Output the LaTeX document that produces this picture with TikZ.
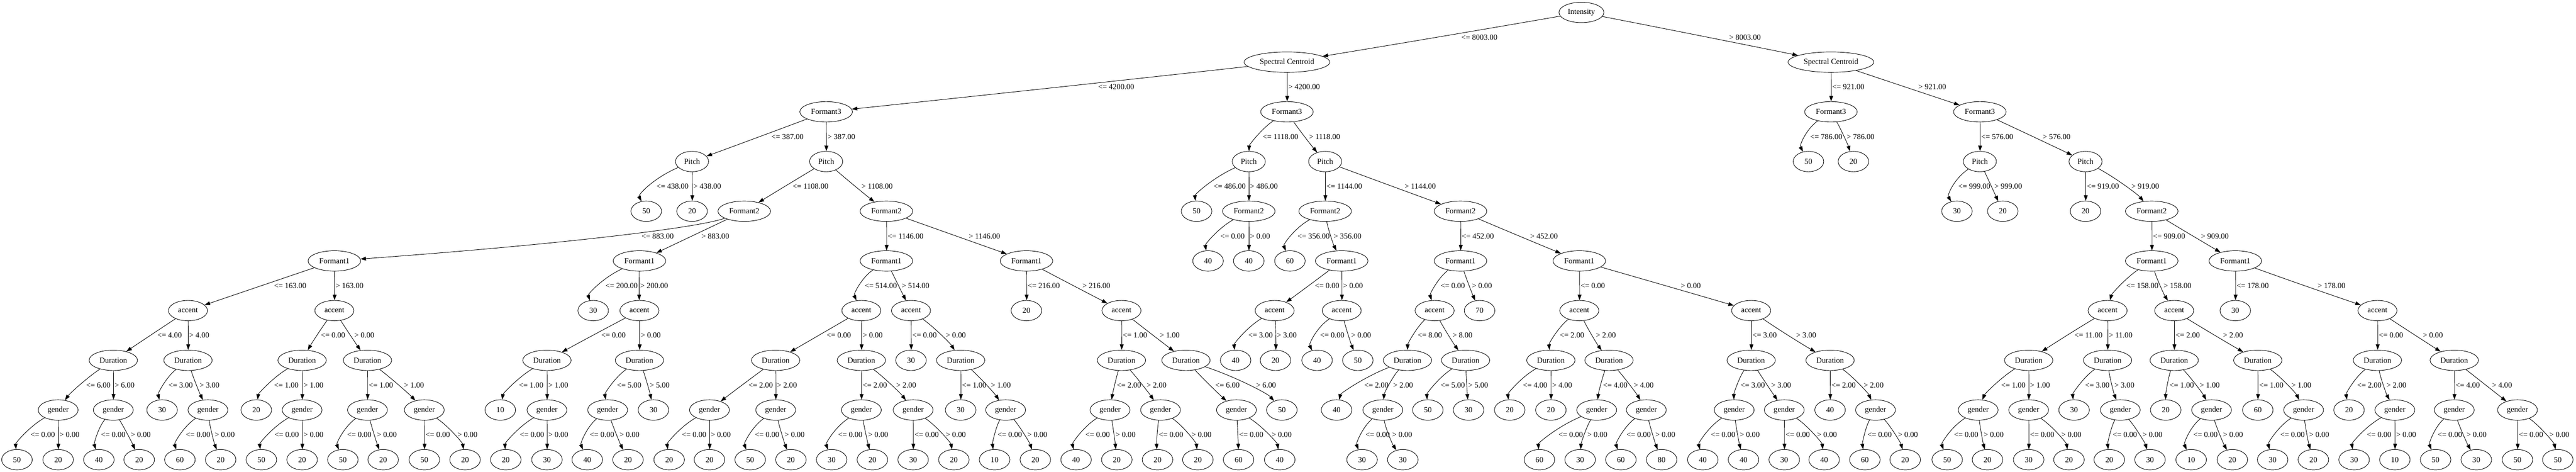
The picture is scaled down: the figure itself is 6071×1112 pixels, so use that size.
\documentclass[tikz,border=0pt]{standalone}
\usepackage{fontspec}
\setmainfont{Liberation Serif}
\usetikzlibrary{shapes.geometric,arrows.meta}
\tikzset{
  nd/.style={draw, ellipse, line width=1.1pt, inner sep=0pt, minimum height=48pt},
  lf/.style={nd, minimum width=72pt},
  rootn/.style={nd, minimum width=106pt},
  scn/.style={nd, minimum width=202pt},
  fm/.style={nd, minimum width=124pt},
  pit/.style={nd, minimum width=78pt},
  acc/.style={nd, minimum width=92pt},
  dur/.style={nd, minimum width=114pt},
  gen/.style={nd, minimum width=94pt},
  conn/.style={draw, line width=1.1pt, -{Triangle[length=13pt,width=9pt]}},
  elab/.style={anchor=west, inner sep=0pt},
}
% node: style, level, x, text
\newcommand\Nd[4]{\node[#1] (L#2x#3) at (#3,{29.3+117.1*#2}) {#4};}
% edge: parent level, parent x, child x, label, label x
\newcommand\Edge[5]{%
  \pgfmathsetmacro\eya{29.3+117.1*#1}%
  \pgfmathsetmacro\eyb{29.3+117.1*(#1+1)}%
  \pgfmathsetmacro\eym{(\eya+\eyb)/2}%
  \pgfmathsetmacro\eoff{abs(#3-#2)/117.1*9.5}%
  \pgfmathsetmacro\evx{#5-2.5-\eoff}%
  \pgfmathsetmacro\eqx{2*\evx-#2/2-#3/2}%
  \pgfmathsetmacro\ecax{#2/3+\eqx/1.5}%
  \pgfmathsetmacro\ecay{\eya/3+\eym/1.5}%
  \pgfmathsetmacro\ecbx{#3/3+\eqx/1.5}%
  \pgfmathsetmacro\ecby{\eyb/3+\eym/1.5}%
  \pgfmathtruncatemacro\elc{#1+1}%
  \draw[conn] (L#1x#2) .. controls (\ecax,\ecay) and (\ecbx,\ecby) .. (L\elc x#3);%
  \node[elab] at (#5,\eym) {#4};%
}
\begin{document}
\begin{tikzpicture}[x=1pt,y=-1pt,font=\fontsize{18.3}{22}\selectfont]
\useasboundingbox (0,0) rectangle (6071,1112);
\fill[white] (0,0) rectangle (6071,1112);
% level 0-2
\Nd{rootn}{0}{3727}{Intensity}
\Nd{scn}{1}{3033}{Spectral Centroid}
\Nd{scn}{1}{4315}{Spectral Centroid}
\Nd{fm}{2}{1947}{Formant3}
\Nd{fm}{2}{3033}{Formant3}
\Nd{fm}{2}{4315}{Formant3}
\Nd{fm}{2}{4666}{Formant3}
% level 3
\Nd{pit}{3}{1631}{Pitch}
\Nd{pit}{3}{1947}{Pitch}
\Nd{pit}{3}{2943}{Pitch}
\Nd{pit}{3}{3123}{Pitch}
\Nd{lf}{3}{4262}{50}
\Nd{lf}{3}{4368}{20}
\Nd{pit}{3}{4666}{Pitch}
\Nd{pit}{3}{4915}{Pitch}
% level 4
\Nd{lf}{4}{1523}{50}
\Nd{lf}{4}{1631}{20}
\Nd{fm}{4}{1754}{Formant2}
\Nd{fm}{4}{2089}{Formant2}
\Nd{lf}{4}{2820}{50}
\Nd{fm}{4}{2943}{Formant2}
\Nd{fm}{4}{3123}{Formant2}
\Nd{fm}{4}{3442}{Formant2}
\Nd{lf}{4}{4612}{30}
\Nd{lf}{4}{4720}{20}
\Nd{lf}{4}{4915}{20}
\Nd{fm}{4}{5071}{Formant2}
% level 5
\Nd{fm}{5}{788}{Formant1}
\Nd{fm}{5}{1507}{Formant1}
\Nd{fm}{5}{2089}{Formant1}
\Nd{fm}{5}{2419}{Formant1}
\Nd{lf}{5}{2847}{40}
\Nd{lf}{5}{2943}{40}
\Nd{lf}{5}{3040}{60}
\Nd{fm}{5}{3162}{Formant1}
\Nd{fm}{5}{3442}{Formant1}
\Nd{fm}{5}{3722}{Formant1}
\Nd{fm}{5}{5071}{Formant1}
\Nd{fm}{5}{5268}{Formant1}
% level 6
\Nd{acc}{6}{443}{accent}
\Nd{acc}{6}{788}{accent}
\Nd{lf}{6}{1398}{30}
\Nd{acc}{6}{1507}{accent}
\Nd{acc}{6}{2030}{accent}
\Nd{acc}{6}{2147}{accent}
\Nd{lf}{6}{2419}{20}
\Nd{acc}{6}{2643}{accent}
\Nd{acc}{6}{3004}{accent}
\Nd{acc}{6}{3162}{accent}
\Nd{acc}{6}{3381}{accent}
\Nd{lf}{6}{3487}{70}
\Nd{acc}{6}{3722}{accent}
\Nd{acc}{6}{4127}{accent}
\Nd{acc}{6}{4967}{accent}
\Nd{acc}{6}{5124}{accent}
\Nd{lf}{6}{5268}{30}
\Nd{acc}{6}{5603}{accent}
% level 7
\Nd{dur}{7}{267}{Duration}
\Nd{dur}{7}{443}{Duration}
\Nd{dur}{7}{712}{Duration}
\Nd{dur}{7}{866}{Duration}
\Nd{dur}{7}{1289}{Duration}
\Nd{dur}{7}{1507}{Duration}
\Nd{dur}{7}{1828}{Duration}
\Nd{dur}{7}{2030}{Duration}
\Nd{lf}{7}{2147}{30}
\Nd{dur}{7}{2264}{Duration}
\Nd{dur}{7}{2643}{Duration}
\Nd{dur}{7}{2795}{Duration}
\Nd{lf}{7}{2912}{40}
\Nd{lf}{7}{3006}{20}
\Nd{lf}{7}{3104}{40}
\Nd{lf}{7}{3200}{50}
\Nd{dur}{7}{3317}{Duration}
\Nd{dur}{7}{3454}{Duration}
\Nd{dur}{7}{3655}{Duration}
\Nd{dur}{7}{3792}{Duration}
\Nd{dur}{7}{4127}{Duration}
\Nd{dur}{7}{4313}{Duration}
\Nd{dur}{7}{4781}{Duration}
\Nd{dur}{7}{4967}{Duration}
\Nd{dur}{7}{5124}{Duration}
\Nd{dur}{7}{5321}{Duration}
\Nd{dur}{7}{5603}{Duration}
\Nd{dur}{7}{5784}{Duration}
% level 8
\Nd{gen}{8}{137}{gender}
\Nd{gen}{8}{267}{gender}
\Nd{lf}{8}{382}{30}
\Nd{gen}{8}{490}{gender}
\Nd{lf}{8}{604}{20}
\Nd{gen}{8}{712}{gender}
\Nd{gen}{8}{866}{gender}
\Nd{gen}{8}{1000}{gender}
\Nd{lf}{8}{1179}{10}
\Nd{gen}{8}{1289}{gender}
\Nd{gen}{8}{1432}{gender}
\Nd{lf}{8}{1540}{30}
\Nd{gen}{8}{1672}{gender}
\Nd{gen}{8}{1828}{gender}
\Nd{gen}{8}{2030}{gender}
\Nd{gen}{8}{2152}{gender}
\Nd{lf}{8}{2264}{30}
\Nd{gen}{8}{2370}{gender}
\Nd{gen}{8}{2616}{gender}
\Nd{gen}{8}{2735}{gender}
\Nd{gen}{8}{2914}{gender}
\Nd{lf}{8}{3021}{50}
\Nd{lf}{8}{3150}{40}
\Nd{gen}{8}{3259}{gender}
\Nd{lf}{8}{3365}{50}
\Nd{lf}{8}{3461}{30}
\Nd{lf}{8}{3558}{20}
\Nd{lf}{8}{3655}{20}
\Nd{gen}{8}{3763}{gender}
\Nd{gen}{8}{3880}{gender}
\Nd{gen}{8}{4087}{gender}
\Nd{gen}{8}{4205}{gender}
\Nd{lf}{8}{4313}{40}
\Nd{gen}{8}{4420}{gender}
\Nd{gen}{8}{4662}{gender}
\Nd{gen}{8}{4781}{gender}
\Nd{lf}{8}{4888}{30}
\Nd{gen}{8}{4997}{gender}
\Nd{lf}{8}{5104}{20}
\Nd{gen}{8}{5212}{gender}
\Nd{lf}{8}{5321}{60}
\Nd{gen}{8}{5429}{gender}
\Nd{lf}{8}{5536}{20}
\Nd{gen}{8}{5644}{gender}
\Nd{gen}{8}{5784}{gender}
\Nd{gen}{8}{5933}{gender}
% level 9
\Nd{lf}{9}{40}{50}
\Nd{lf}{9}{137}{20}
\Nd{lf}{9}{233}{40}
\Nd{lf}{9}{328}{20}
\Nd{lf}{9}{424}{60}
\Nd{lf}{9}{520}{20}
\Nd{lf}{9}{616}{50}
\Nd{lf}{9}{712}{20}
\Nd{lf}{9}{808}{50}
\Nd{lf}{9}{903}{20}
\Nd{lf}{9}{1000}{50}
\Nd{lf}{9}{1096}{20}
\Nd{lf}{9}{1192}{20}
\Nd{lf}{9}{1289}{30}
\Nd{lf}{9}{1384}{40}
\Nd{lf}{9}{1480}{20}
\Nd{lf}{9}{1577}{20}
\Nd{lf}{9}{1672}{20}
\Nd{lf}{9}{1768}{50}
\Nd{lf}{9}{1864}{20}
\Nd{lf}{9}{1960}{30}
\Nd{lf}{9}{2056}{20}
\Nd{lf}{9}{2152}{30}
\Nd{lf}{9}{2248}{20}
\Nd{lf}{9}{2344}{10}
\Nd{lf}{9}{2440}{20}
\Nd{lf}{9}{2536}{40}
\Nd{lf}{9}{2632}{20}
\Nd{lf}{9}{2728}{20}
\Nd{lf}{9}{2823}{20}
\Nd{lf}{9}{2919}{60}
\Nd{lf}{9}{3016}{40}
\Nd{lf}{9}{3210}{30}
\Nd{lf}{9}{3306}{30}
\Nd{lf}{9}{3628}{60}
\Nd{lf}{9}{3724}{30}
\Nd{lf}{9}{3820}{60}
\Nd{lf}{9}{3916}{80}
\Nd{lf}{9}{4013}{40}
\Nd{lf}{9}{4109}{40}
\Nd{lf}{9}{4205}{30}
\Nd{lf}{9}{4299}{40}
\Nd{lf}{9}{4395}{60}
\Nd{lf}{9}{4490}{20}
\Nd{lf}{9}{4589}{50}
\Nd{lf}{9}{4684}{20}
\Nd{lf}{9}{4781}{30}
\Nd{lf}{9}{4876}{20}
\Nd{lf}{9}{4971}{20}
\Nd{lf}{9}{5067}{30}
\Nd{lf}{9}{5164}{10}
\Nd{lf}{9}{5261}{20}
\Nd{lf}{9}{5356}{30}
\Nd{lf}{9}{5452}{20}
\Nd{lf}{9}{5548}{30}
\Nd{lf}{9}{5644}{10}
\Nd{lf}{9}{5740}{50}
\Nd{lf}{9}{5836}{30}
\Nd{lf}{9}{5933}{50}
\Nd{lf}{9}{6028}{50}
% edges level 0-2
\Edge{0}{3727}{3033}{<= 8003.00}{3444}
\Edge{0}{3727}{4315}{> 8003.00}{4075}
\Edge{1}{3033}{1947}{<= 4200.00}{2588}
\Edge{1}{3033}{3033}{> 4200.00}{3036}
\Edge{1}{4315}{4315}{<= 921.00}{4318}
\Edge{1}{4315}{4666}{> 921.00}{4521}
\Edge{2}{1947}{1631}{<= 387.00}{1818}
\Edge{2}{1947}{1947}{> 387.00}{1950}
\Edge{2}{3033}{2943}{<= 1118.00}{2976}
\Edge{2}{3033}{3123}{> 1118.00}{3085}
\Edge{2}{4315}{4262}{<= 786.00}{4266}
\Edge{2}{4315}{4368}{> 786.00}{4352}
\Edge{2}{4666}{4666}{<= 576.00}{4669}
\Edge{2}{4666}{4915}{> 576.00}{4814}
% level 3
\Edge{3}{1631}{1523}{<= 438.00}{1547}
\Edge{3}{1631}{1631}{> 438.00}{1634}
\Edge{3}{1947}{1754}{<= 1108.00}{1868}
\Edge{3}{1947}{2089}{> 1108.00}{2030}
\Edge{3}{2943}{2820}{<= 486.00}{2860}
\Edge{3}{2943}{2943}{> 486.00}{2946}
\Edge{3}{3123}{3123}{<= 1144.00}{3126}
\Edge{3}{3123}{3442}{> 1144.00}{3310}
\Edge{3}{4666}{4612}{<= 999.00}{4615}
\Edge{3}{4666}{4720}{> 999.00}{4700}
\Edge{3}{4915}{4915}{<= 919.00}{4918}
\Edge{3}{4915}{5071}{> 919.00}{5023}
% level 4
\Edge{4}{1754}{788}{<= 883.00}{1512}
\Edge{4}{1754}{1507}{> 883.00}{1653}
\Edge{4}{2089}{2089}{<= 1146.00}{2092}
\Edge{4}{2089}{2419}{> 1146.00}{2283}
\Edge{4}{2943}{2847}{<= 0.00}{2876}
\Edge{4}{2943}{2943}{> 0.00}{2946}
\Edge{4}{3123}{3040}{<= 356.00}{3058}
\Edge{4}{3123}{3162}{> 356.00}{3143}
\Edge{4}{3442}{3442}{<= 452.00}{3445}
\Edge{4}{3442}{3722}{> 452.00}{3606}
\Edge{4}{5071}{5071}{<= 909.00}{5074}
\Edge{4}{5071}{5268}{> 909.00}{5187}
% level 5
\Edge{5}{788}{443}{<= 163.00}{646}
\Edge{5}{788}{788}{> 163.00}{791}
\Edge{5}{1507}{1398}{<= 200.00}{1427}
\Edge{5}{1507}{1507}{> 200.00}{1509}
\Edge{5}{2089}{2030}{<= 514.00}{2038}
\Edge{5}{2089}{2147}{> 514.00}{2125}
\Edge{5}{2419}{2419}{<= 216.00}{2422}
\Edge{5}{2419}{2643}{> 216.00}{2551}
\Edge{5}{3162}{3004}{<= 0.00}{3099}
\Edge{5}{3162}{3162}{> 0.00}{3165}
\Edge{5}{3442}{3381}{<= 0.00}{3395}
\Edge{5}{3442}{3487}{> 0.00}{3469}
\Edge{5}{3722}{3722}{<= 0.00}{3725}
\Edge{5}{3722}{4127}{> 0.00}{3961}
\Edge{5}{5071}{4967}{<= 158.00}{5011}
\Edge{5}{5071}{5124}{> 158.00}{5099}
\Edge{5}{5268}{5268}{<= 178.00}{5271}
\Edge{5}{5268}{5603}{> 178.00}{5462}
% level 6
\Edge{6}{443}{267}{<= 4.00}{371}
\Edge{6}{443}{443}{> 4.00}{446}
\Edge{6}{788}{712}{<= 0.00}{756}
\Edge{6}{788}{866}{> 0.00}{835}
\Edge{6}{1507}{1289}{<= 0.00}{1417}
\Edge{6}{1507}{1507}{> 0.00}{1510}
\Edge{6}{2030}{1828}{<= 0.00}{1948}
\Edge{6}{2030}{2030}{> 0.00}{2033}
\Edge{6}{2147}{2147}{<= 0.00}{2150}
\Edge{6}{2147}{2264}{> 0.00}{2229}
\Edge{6}{2643}{2643}{<= 1.00}{2646}
\Edge{6}{2643}{2795}{> 1.00}{2733}
\Edge{6}{3004}{2912}{<= 3.00}{2942}
\Edge{6}{3004}{3006}{> 3.00}{3009}
\Edge{6}{3162}{3104}{<= 0.00}{3111}
\Edge{6}{3162}{3200}{> 0.00}{3184}
\Edge{6}{3381}{3317}{<= 8.00}{3341}
\Edge{6}{3381}{3454}{> 8.00}{3423}
\Edge{6}{3722}{3655}{<= 2.00}{3676}
\Edge{6}{3722}{3792}{> 2.00}{3761}
\Edge{6}{4127}{4127}{<= 3.00}{4130}
\Edge{6}{4127}{4313}{> 3.00}{4233}
\Edge{6}{4967}{4781}{<= 11.00}{4889}
\Edge{6}{4967}{4967}{> 11.00}{4970}
\Edge{6}{5124}{5124}{<= 2.00}{5127}
\Edge{6}{5124}{5321}{> 2.00}{5239}
\Edge{6}{5603}{5603}{<= 0.00}{5606}
\Edge{6}{5603}{5784}{> 0.00}{5710}
% level 7
\Edge{7}{267}{137}{<= 6.00}{203}
\Edge{7}{267}{267}{> 6.00}{270}
\Edge{7}{443}{382}{<= 3.00}{397}
\Edge{7}{443}{490}{> 3.00}{470}
\Edge{7}{712}{604}{<= 1.00}{646}
\Edge{7}{712}{712}{> 1.00}{715}
\Edge{7}{866}{866}{<= 1.00}{869}
\Edge{7}{866}{1000}{> 1.00}{952}
\Edge{7}{1289}{1179}{<= 1.00}{1223}
\Edge{7}{1289}{1289}{> 1.00}{1292}
\Edge{7}{1507}{1432}{<= 5.00}{1454}
\Edge{7}{1507}{1540}{> 5.00}{1531}
\Edge{7}{1828}{1672}{<= 2.00}{1764}
\Edge{7}{1828}{1828}{> 2.00}{1831}
\Edge{7}{2030}{2030}{<= 2.00}{2033}
\Edge{7}{2030}{2152}{> 2.00}{2112}
\Edge{7}{2264}{2264}{<= 1.00}{2267}
\Edge{7}{2264}{2370}{> 1.00}{2335}
\Edge{7}{2643}{2616}{<= 2.00}{2632}
\Edge{7}{2643}{2735}{> 2.00}{2702}
\Edge{7}{2795}{2914}{<= 6.00}{2864}
\Edge{7}{2795}{3021}{> 6.00}{2960}
\Edge{7}{3317}{3150}{<= 2.00}{3215}
\Edge{7}{3317}{3259}{> 2.00}{3283}
\Edge{7}{3454}{3365}{<= 5.00}{3395}
\Edge{7}{3454}{3461}{> 5.00}{3460}
\Edge{7}{3655}{3558}{<= 4.00}{3589}
\Edge{7}{3655}{3655}{> 4.00}{3658}
\Edge{7}{3792}{3763}{<= 4.00}{3778}
\Edge{7}{3792}{3880}{> 4.00}{3850}
\Edge{7}{4127}{4087}{<= 3.00}{4102}
\Edge{7}{4127}{4205}{> 3.00}{4174}
\Edge{7}{4313}{4313}{<= 2.00}{4316}
\Edge{7}{4313}{4420}{> 2.00}{4392}
\Edge{7}{4781}{4662}{<= 1.00}{4716}
\Edge{7}{4781}{4781}{> 1.00}{4784}
\Edge{7}{4967}{4888}{<= 3.00}{4914}
\Edge{7}{4967}{4997}{> 3.00}{4983}
\Edge{7}{5124}{5104}{<= 1.00}{5113}
\Edge{7}{5124}{5212}{> 1.00}{5184}
\Edge{7}{5321}{5321}{<= 1.00}{5324}
\Edge{7}{5321}{5429}{> 1.00}{5400}
\Edge{7}{5603}{5536}{<= 2.00}{5555}
\Edge{7}{5603}{5644}{> 2.00}{5624}
\Edge{7}{5784}{5784}{<= 4.00}{5787}
\Edge{7}{5784}{5933}{> 4.00}{5873}
% level 8
\Edge{8}{137}{40}{<= 0.00}{72}
\Edge{8}{137}{137}{> 0.00}{140}
\Edge{8}{267}{233}{<= 0.00}{238}
\Edge{8}{267}{328}{> 0.00}{308}
\Edge{8}{490}{424}{<= 0.00}{438}
\Edge{8}{490}{520}{> 0.00}{506}
\Edge{8}{712}{616}{<= 0.00}{647}
\Edge{8}{712}{712}{> 0.00}{715}
\Edge{8}{866}{808}{<= 0.00}{818}
\Edge{8}{866}{903}{> 0.00}{888}
\Edge{8}{1000}{1000}{<= 0.00}{1003}
\Edge{8}{1000}{1096}{> 0.00}{1078}
\Edge{8}{1289}{1192}{<= 0.00}{1225}
\Edge{8}{1289}{1289}{> 0.00}{1292}
\Edge{8}{1432}{1384}{<= 0.00}{1390}
\Edge{8}{1432}{1480}{> 0.00}{1460}
\Edge{8}{1672}{1577}{<= 0.00}{1607}
\Edge{8}{1672}{1672}{> 0.00}{1675}
\Edge{8}{1828}{1768}{<= 0.00}{1779}
\Edge{8}{1828}{1864}{> 0.00}{1849}
\Edge{8}{2030}{1960}{<= 0.00}{1975}
\Edge{8}{2030}{2056}{> 0.00}{2046}
\Edge{8}{2152}{2152}{<= 0.00}{2155}
\Edge{8}{2152}{2248}{> 0.00}{2229}
\Edge{8}{2370}{2344}{<= 0.00}{2351}
\Edge{8}{2370}{2440}{> 0.00}{2421}
\Edge{8}{2616}{2536}{<= 0.00}{2558}
\Edge{8}{2616}{2632}{> 0.00}{2629}
\Edge{8}{2735}{2728}{<= 0.00}{2731}
\Edge{8}{2735}{2823}{> 0.00}{2808}
\Edge{8}{2914}{2919}{<= 0.00}{2920}
\Edge{8}{2914}{3016}{> 0.00}{2997}
\Edge{8}{3259}{3210}{<= 0.00}{3218}
\Edge{8}{3259}{3306}{> 0.00}{3281}
\Edge{8}{3763}{3628}{<= 0.00}{3673}
\Edge{8}{3763}{3724}{> 0.00}{3741}
\Edge{8}{3880}{3820}{<= 0.00}{3833}
\Edge{8}{3880}{3916}{> 0.00}{3901}
\Edge{8}{4087}{4013}{<= 0.00}{4032}
\Edge{8}{4087}{4109}{> 0.00}{4100}
\Edge{8}{4205}{4205}{<= 0.00}{4208}
\Edge{8}{4205}{4299}{> 0.00}{4282}
\Edge{8}{4420}{4395}{<= 0.00}{4401}
\Edge{8}{4420}{4490}{> 0.00}{4473}
\Edge{8}{4662}{4589}{<= 0.00}{4605}
\Edge{8}{4662}{4684}{> 0.00}{4675}
\Edge{8}{4781}{4781}{<= 0.00}{4784}
\Edge{8}{4781}{4876}{> 0.00}{4858}
\Edge{8}{4997}{4971}{<= 0.00}{4979}
\Edge{8}{4997}{5067}{> 0.00}{5049}
\Edge{8}{5212}{5164}{<= 0.00}{5169}
\Edge{8}{5212}{5261}{> 0.00}{5239}
\Edge{8}{5429}{5356}{<= 0.00}{5374}
\Edge{8}{5429}{5452}{> 0.00}{5442}
\Edge{8}{5644}{5548}{<= 0.00}{5578}
\Edge{8}{5644}{5644}{> 0.00}{5647}
\Edge{8}{5784}{5740}{<= 0.00}{5745}
\Edge{8}{5784}{5836}{> 0.00}{5813}
\Edge{8}{5933}{5933}{<= 0.00}{5936}
\Edge{8}{5933}{6028}{> 0.00}{6008}
\end{tikzpicture}
\end{document}
